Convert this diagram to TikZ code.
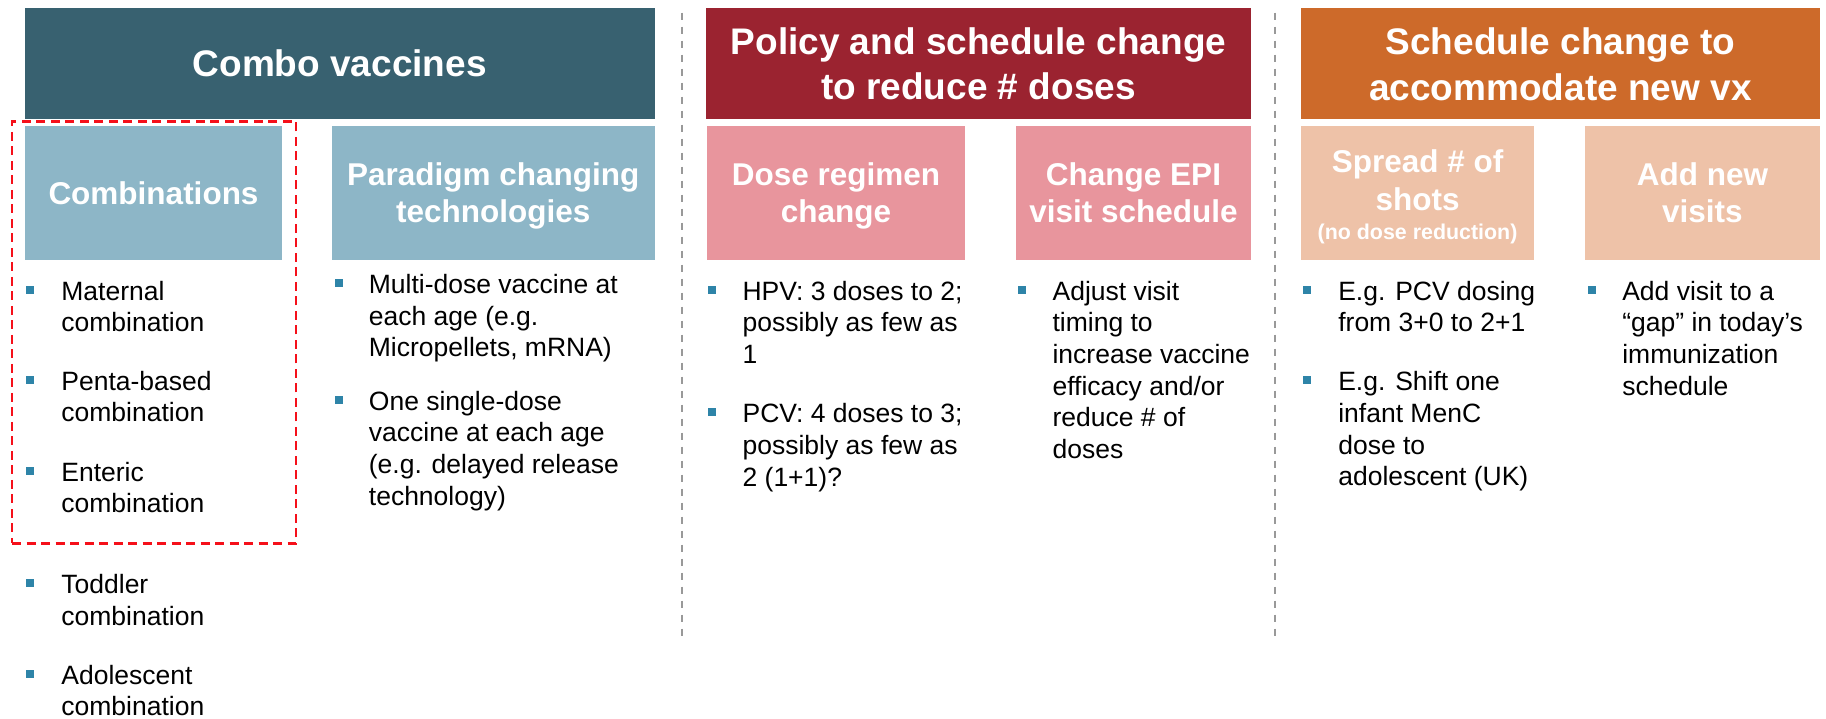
\documentclass[tikz,border=0pt]{standalone}
\usepackage{fontspec}
\setmainfont{Liberation Sans}
\definecolor{comboDark}{HTML}{386170}
\definecolor{comboLight}{HTML}{8DB6C7}
\definecolor{policyDark}{HTML}{9B2330}
\definecolor{policyLight}{HTML}{E8959D}
\definecolor{schedDark}{HTML}{CD6A2A}
\definecolor{schedLight}{HTML}{EEC2A8}
\definecolor{bulletBlue}{HTML}{2E84A8}
\definecolor{focusRed}{HTML}{F5101A}
\definecolor{sepGray}{HTML}{999999}
\begin{document}
% Multi-line nodes are anchored at the baseline of their last line.
\begin{tikzpicture}[x=1pt,y=-1pt,
  panel/.style={draw=none,inner sep=0pt,minimum height=110.7pt},
  subpanel/.style={draw=none,inner sep=0pt,minimum height=133.7pt},
  hdrtext/.style={anchor=base,align=center,inner sep=0pt,text=white,
    font=\fontsize{37}{45.3}\selectfont\bfseries},
  subtext/.style={anchor=base,align=center,inner sep=0pt,text=white,
    font=\fontsize{31.5}{37.7}\selectfont\bfseries},
  notetext/.style={anchor=base,align=center,inner sep=0pt,text=white,
    font=\fontsize{21.4}{25}\selectfont\bfseries},
  item/.style={anchor=base west,align=left,inner sep=0pt,text=black,
    font=\fontsize{26.5}{31.7}\selectfont},
  bul/.style={fill=bulletBlue,draw=none,inner sep=0pt,minimum size=8pt},
  separator/.style={draw=sepGray,line width=2pt,dash pattern=on 7.5pt off 6.5pt},
  focus/.style={draw=focusRed,line width=2.75pt,dash pattern=on 9pt off 5.5pt,
    inner sep=0pt,fill=none}]

\useasboundingbox (0,0) rectangle (1826,718);

% ---------- header bars ----------
\node[panel,fill=comboDark,minimum width=629.5pt] (combo) at (339.75,63.35) {};
\node[panel,fill=policyDark,minimum width=545pt] (policy) at (978.5,63.35) {};
\node[panel,fill=schedDark,minimum width=519.1pt] (sched) at (1560.45,63.35) {};
\node[hdrtext] (combo-t) at (339.75,76.6) {Combo vaccines};
\node[hdrtext] (policy-t) at (978.5,99.3) {Policy and schedule change\\to reduce \# doses};
\node[hdrtext] (sched-t) at (1560.45,100) {Schedule change to\\accommodate new vx};

% ---------- sub-category boxes ----------
\node[subpanel,fill=comboLight,minimum width=257pt] (comb) at (153.5,192.85) {};
\node[subpanel,fill=comboLight,minimum width=322.5pt] (para) at (493.25,192.85) {};
\node[subpanel,fill=policyLight,minimum width=258.4pt] (dose) at (836,192.85) {};
\node[subpanel,fill=policyLight,minimum width=235pt] (epi) at (1133.5,192.85) {};
\node[subpanel,fill=schedLight,minimum width=233.3pt] (spread) at (1417.55,192.85) {};
\node[subpanel,fill=schedLight,minimum width=235.1pt] (addv) at (1702.45,192.85) {};

\node[subtext] (comb-t) at (153.5,204) {Combinations};
\node[subtext] (para-t) at (493.25,222.7) {Paradigm changing\\technologies};
\node[subtext] (dose-t) at (836,222.7) {Dose regimen\\change};
\node[subtext] (epi-t) at (1133.5,222.7) {Change EPI\\visit schedule};
\node[subtext] (spread-t) at (1417.55,210) {Spread \# of\\shots};
\node[notetext] (spread-n) at (1417.55,239.3) {(no dose reduction)};
\node[subtext] (addv-t) at (1702.45,222.7) {Add new\\visits};

% ---------- highlighted group ----------
\node[focus,minimum width=284pt,minimum height=422pt] (focusbox) at (154,332.3) {};

% ---------- column separators ----------
\coordinate (sepA-top) at (682,12.7);
\coordinate (sepA-bot) at (682,636);
\coordinate (sepB-top) at (1274.5,12.7);
\coordinate (sepB-bot) at (1274.5,636);
\draw[separator] (sepA-top) -- (sepA-bot);
\draw[separator] (sepB-top) -- (sepB-bot);

% ---------- combinations list ----------
\node[bul] (b-mat) at (30.4,289.5) {};
\node[item] (t-mat) at (61.2,331.7) {Maternal\\combination};
\node[bul] (b-pen) at (30.4,379.5) {};
\node[item] (t-pen) at (61.2,421.7) {Penta-based\\combination};
\node[bul] (b-ent) at (30.4,470.5) {};
\node[item] (t-ent) at (61.2,512.7) {Enteric\\combination};
\node[bul] (b-tod) at (30.4,582.8) {};
\node[item] (t-tod) at (61.2,625) {Toddler\\combination};
\node[bul] (b-ado) at (30.4,673.5) {};
\node[item] (t-ado) at (61.2,715.7) {Adolescent\\combination};

% ---------- paradigm list ----------
\node[bul] (b-multi) at (338.9,283.3) {};
\node[item] (t-multi) at (368.7,356.7) {Multi-dose vaccine at\\each age (e.g.\\Micropellets, mRNA)};
\node[bul] (b-single) at (338.9,400) {};
\node[item] (t-single) at (368.7,505.1) {One single-dose\\vaccine at each age\\(e.g. delayed release\\technology)};

% ---------- dose regimen list ----------
\node[bul] (b-hpv) at (712.2,289.5) {};
\node[item] (t-hpv) at (742.4,363.4) {HPV: 3 doses to 2;\\possibly as few as\\1};
\node[bul] (b-pcv) at (712.2,412.2) {};
\node[item] (t-pcv) at (742.4,486.1) {PCV: 4 doses to 3;\\possibly as few as\\2 (1+1)?};

% ---------- EPI list ----------
\node[bul] (b-adj) at (1022.2,289.5) {};
\node[item] (t-adj) at (1052.4,458.5) {Adjust visit\\timing to\\increase vaccine\\efficacy and/or\\reduce \# of\\doses};

% ---------- spread list ----------
\node[bul] (b-eg1) at (1306.9,289.5) {};
\node[item] (t-eg1) at (1338.1,331.7) {E.g. PCV dosing\\from 3+0 to 2+1};
\node[bul] (b-eg2) at (1306.9,380.2) {};
\node[item] (t-eg2) at (1338.1,485.8) {E.g. Shift one\\infant MenC\\dose to\\adolescent (UK)};

% ---------- new visits list ----------
\node[bul] (b-add) at (1592,289.5) {};
\node[item] (t-add) at (1622.1,395.1) {Add visit to a\\“gap” in today’s\\immunization\\schedule};

\end{tikzpicture}
\end{document}
